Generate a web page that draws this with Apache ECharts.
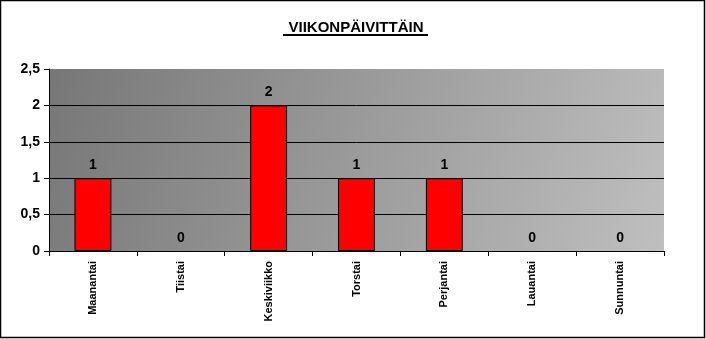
<!DOCTYPE html>
<html><head><meta charset="utf-8">
<script src="https://cdn.jsdelivr.net/npm/echarts@6/dist/echarts.min.js"></script>
<style>html,body{margin:0;padding:0;background:#fff}#c{width:706px;height:339px}</style>
</head><body><div id="c"></div>
<script>
const titleText = 'VIIKONPÄIVITTÄIN';
const categories = ['Maanantai','Tiistai','Keskiviikko','Torstai','Perjantai','Lauantai','Sunnuntai'];
const values = [1,0,2,1,1,0,0];
const yMin = 0, yMax = 2.5, yStep = 0.5;

const chart = echarts.init(document.getElementById('c'));
chart.setOption({
  animation:false,
  backgroundColor:'#fff',
  graphic:[
    {type:'rect',shape:{x:0.5,y:0.5,width:704,height:337},style:{fill:'none',stroke:'#000',lineWidth:1.5},z:100},
    {type:'text',x:356,y:20,style:{text:titleText,align:'center',font:'bold 15px "Liberation Sans", Arial, sans-serif',fill:'#000'}},
    {type:'rect',shape:{x:283,y:34,width:145,height:2},style:{fill:'#000'}}
  ],
  grid:{left:49,right:42,top:69,bottom:88,show:true,borderWidth:0,
    backgroundColor:{type:'linear',x:0,y:0,x2:1,y2:1,colorStops:[{offset:0,color:'#777777'},{offset:1,color:'#bfbfbf'}]}},
  xAxis:{type:'category',data:categories,boundaryGap:true,z:10,
    axisLine:{lineStyle:{color:'#000',width:1}},
    axisTick:{show:true,length:5,lineStyle:{color:'#000'}},
    axisLabel:{rotate:90,interval:0,margin:10,color:'#000',fontSize:11,fontWeight:'bold',fontFamily:'"Liberation Sans",Arial,sans-serif'}},
  yAxis:{type:'value',min:yMin,max:yMax,interval:yStep,
    axisLine:{show:true,lineStyle:{color:'#000',width:1}},
    axisTick:{show:true,length:5,lineStyle:{color:'#000'}},
    splitLine:{show:true,showMaxLine:false,lineStyle:{color:'#000',width:1}},
    axisLabel:{color:'#000',fontSize:14,fontWeight:'bold',margin:9,fontFamily:'"Liberation Sans",Arial,sans-serif',
      formatter:v=>String(v).replace('.',',')}},
  series:[{type:'bar',barWidth:'42%',
    data:values.map(v=>({value:v,itemStyle:{borderWidth:v===0?0:1}})),
    itemStyle:{color:'#ff0000',borderColor:'#000',borderWidth:1},
    label:{show:true,position:'top',distance:6,color:'#000',fontSize:14,fontWeight:'bold',fontFamily:'"Liberation Sans",Arial,sans-serif'}}]
});
</script></body></html>
